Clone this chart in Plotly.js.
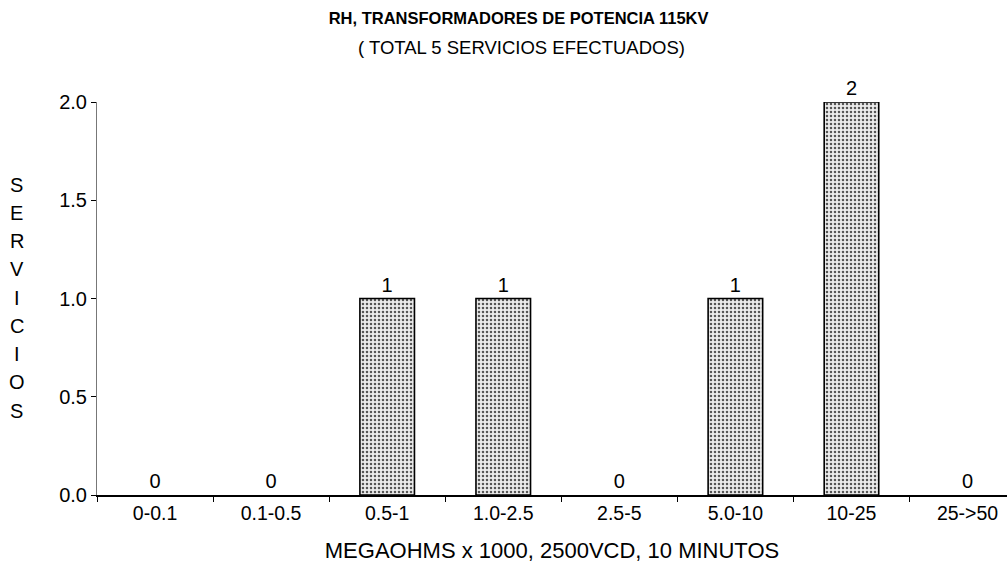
<!DOCTYPE html>
<html><head><meta charset="utf-8">
<script src="https://cdn.plot.ly/plotly-3.0.1.min.js"></script>
<style>html,body{margin:0;padding:0;background:#fff}#c{width:1007px;height:568px}</style>
</head><body><div id="c"></div>
<script>
const categories = ["0-0.1","0.1-0.5","0.5-1","1.0-2.5","2.5-5","5.0-10","10-25","25->50"];
const servicios = [0,0,1,1,0,1,2,0];
const yTickVals = [0,0.5,1,1.5,2];
const yTickText = ["0.0","0.5","1.0","1.5","2.0"];
const yTitleLetters = ["S","E","R","V","I","C","I","O","S"];

const F = 'Arial, "Liberation Sans", sans-serif';

const trace = {
  type: 'bar',
  x: categories,
  y: servicios,
  width: 0.47,
  text: servicios.map(String),
  textposition: 'outside',
  cliponaxis: false,
  textfont: {family: F, size: 20, color: '#000'},
  marker: {
    color: '#d0d0d0',
    line: {color: '#000', width: servicios.map(v => v > 0 ? 1.6 : 0)},
    pattern: {shape: '.', bgcolor: '#ececec', fgcolor: '#555', size: 4, solidity: 0.32}
  },
  hoverinfo: 'none'
};

const annotations = yTitleLetters.map((l, i) => ({
  text: l, xref: 'paper', yref: 'paper', x: -0.088, y: 0.79 - i * (0.79 - 0.215) / 8,
  showarrow: false, font: {family: F, size: 20, color: '#000'}, xanchor: 'center', yanchor: 'middle'
}));
annotations.push({
  text: '( TOTAL 5 SERVICIOS EFECTUADOS)', xref: 'paper', yref: 'paper', x: 0.467, y: 1.0 + 55/393,
  showarrow: false, font: {family: F, size: 18.5, color: '#000'}, xanchor: 'center', yanchor: 'middle'
});

const layout = {
  width: 1007, height: 568,
  margin: {l: 97, r: 0, t: 102, b: 73},
  paper_bgcolor: '#fff', plot_bgcolor: '#fff',
  showlegend: false,
  title: {text: '<b>RH, TRANSFORMADORES DE POTENCIA 115KV</b>', x: 0.515, xanchor: 'center', y: 0.968, yanchor: 'middle',
          font: {family: F, size: 16.5, color: '#000'}},
  xaxis: {
    type: 'category', range: [-0.5, 7.34],
    tickson: 'boundaries', ticks: 'outside', ticklen: 5, tickcolor: '#000', tickwidth: 1,
    showline: true, linecolor: '#000', linewidth: 1.5, showgrid: false, zeroline: false,
    tickfont: {family: F, size: 19.5, color: '#000'},
    title: {text: 'MEGAOHMS x 1000, 2500VCD, 10 MINUTOS', font: {family: F, size: 22, color: '#000'}, standoff: 19}
  },
  yaxis: {
    range: [0, 2], tickvals: yTickVals, ticktext: yTickText,
    ticks: 'outside', ticklen: 5, tickcolor: '#000', tickwidth: 1,
    showline: true, linecolor: '#777', linewidth: 1, showgrid: false, zeroline: false,
    tickfont: {family: F, size: 20, color: '#000'}
  },
  annotations: annotations,
  bargap: 0.5
};

Plotly.newPlot('c', [trace], layout, {displayModeBar: false, staticPlot: true});
</script></body></html>
